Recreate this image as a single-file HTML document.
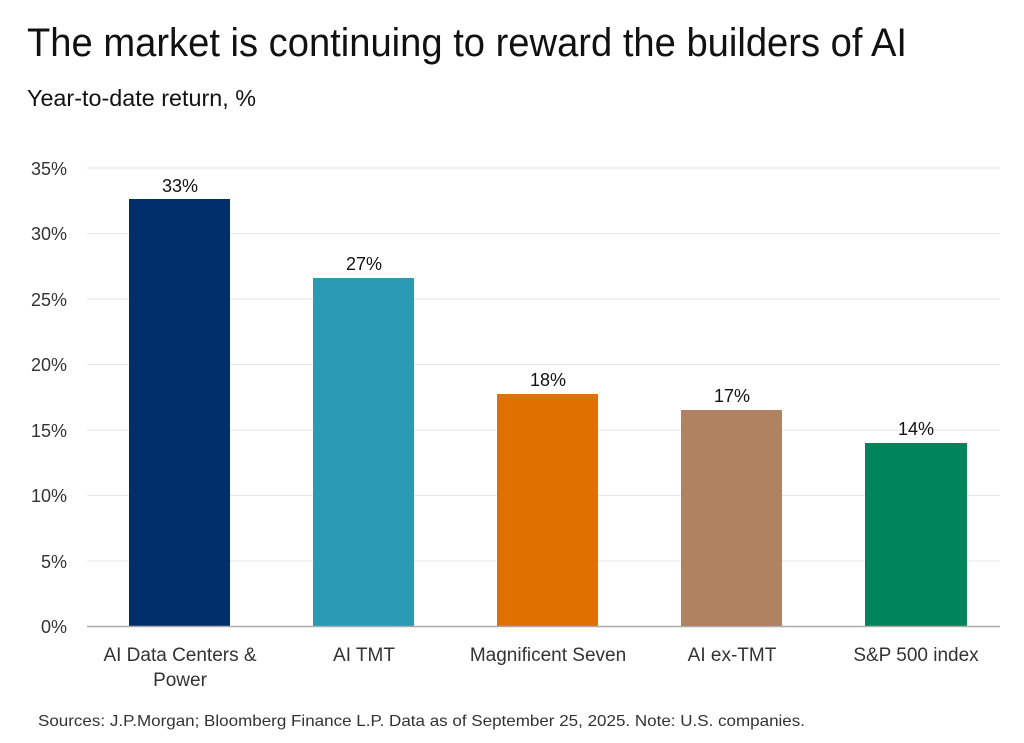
<!DOCTYPE html>
<html><head><meta charset="utf-8"><style>html,body{margin:0;padding:0;background:#fff}svg{display:block}</style></head>
<body>
<svg width="1024" height="743" xmlns="http://www.w3.org/2000/svg" font-family="'Liberation Sans Narrow','Liberation Sans',sans-serif">
<rect width="1024" height="743" fill="#fff"/>
<text x="27" y="56" font-size="40" fill="#111" textLength="880" lengthAdjust="spacingAndGlyphs">The market is continuing to reward the builders of AI</text>
<text x="27" y="106" font-size="23" fill="#111" textLength="229" lengthAdjust="spacingAndGlyphs">Year-to-date return, %</text>
<g stroke="#e6e6e6" stroke-width="1">
<line x1="87" x2="1000" y1="168" y2="168"/><line x1="87" x2="1000" y1="233.5" y2="233.5"/>
<line x1="87" x2="1000" y1="299" y2="299"/><line x1="87" x2="1000" y1="364.5" y2="364.5"/>
<line x1="87" x2="1000" y1="430" y2="430"/><line x1="87" x2="1000" y1="495.5" y2="495.5"/>
<line x1="87" x2="1000" y1="561" y2="561"/>
</g>
<g font-size="18" fill="#333" text-anchor="end">
<text x="67" y="175">35%</text><text x="67" y="240">30%</text><text x="67" y="306">25%</text>
<text x="67" y="371">20%</text><text x="67" y="437">15%</text><text x="67" y="502">10%</text>
<text x="67" y="568">5%</text><text x="67" y="633">0%</text>
</g>
<rect x="129" y="199" width="101" height="427" fill="#002f6c"/>
<rect x="313" y="278" width="101" height="348" fill="#2a9bb4"/>
<rect x="497" y="394" width="101" height="232" fill="#e07000"/>
<rect x="681" y="410" width="101" height="216" fill="#b08262"/>
<rect x="865" y="443" width="102" height="183" fill="#00845a"/>
<line x1="87" x2="1000" y1="626.5" y2="626.5" stroke="#aaa" stroke-width="1.5"/>
<g font-size="18" fill="#111" text-anchor="middle">
<text x="180" y="192">33%</text><text x="364" y="270">27%</text><text x="548" y="386">18%</text>
<text x="732" y="402">17%</text><text x="916" y="435">14%</text>
</g>
<g font-size="19" fill="#333" text-anchor="middle">
<text x="180" y="661">AI Data Centers &amp;</text><text x="180" y="686">Power</text>
<text x="364" y="661">AI TMT</text><text x="548" y="661">Magnificent Seven</text>
<text x="732" y="661">AI ex-TMT</text><text x="916" y="661">S&amp;P 500 index</text>
</g>
<text x="38" y="726" font-size="16" fill="#333" textLength="767" lengthAdjust="spacingAndGlyphs">Sources: J.P.Morgan; Bloomberg Finance L.P. Data as of September 25, 2025. Note: U.S. companies.</text>
</svg>
</body></html>
